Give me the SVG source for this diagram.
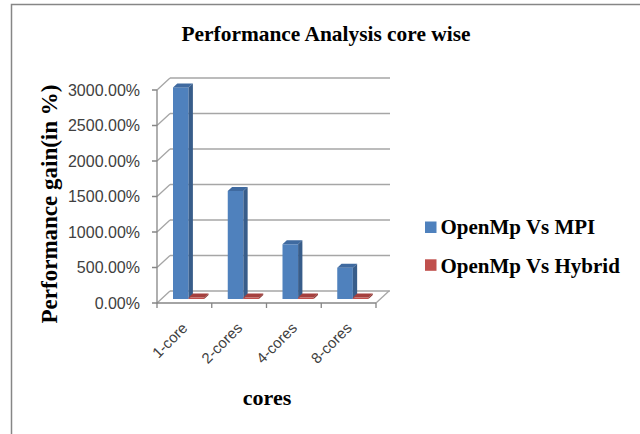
<svg xmlns="http://www.w3.org/2000/svg" width="640" height="434" viewBox="0 0 640 434">
<style>
.grid{stroke:#a6a6a6;stroke-width:1.3;fill:none}
.axis{stroke:#868686;stroke-width:1.3;fill:none}
.ylab{font-family:"Liberation Sans",Arial,sans-serif;font-size:16px;fill:#404040;text-anchor:end}
.xlab{font-family:"Liberation Sans",Arial,sans-serif;font-size:15px;fill:#404040;text-anchor:end}
.serifb{font-family:"Liberation Serif","Times New Roman",serif;font-weight:bold;fill:#000}
.bf{fill:#4f81bd}.bs{fill:#385d8a}.bt{fill:#3f6aa0}
.rf{fill:#c0504d}.rs{fill:#8c3836}.rt{fill:#a5403e}
</style>
<rect width="640" height="434" fill="#fff"/>
<g id="frame">
<path d="M11.5,434 V4.5 H640" stroke="#868686" stroke-width="1.5" fill="none"/>
</g>
<g id="title">
<text class="serifb" x="326" y="41" font-size="21.5" text-anchor="middle" textLength="289" lengthAdjust="spacingAndGlyphs">Performance Analysis core wise</text>
</g>
<g id="walls">
<path class="grid" d="M170,291H390M170,255.5H390M170,220H390M170,184.5H390M170,149H390M170,113.5H390M170,78H390"/>
<path class="grid" d="M157,303L170,291M157,267.5L170,255.5M157,232L170,220M157,196.5L170,184.5M157,161L170,149M157,125.5L170,113.5M157,90L170,78"/>
<path class="grid" d="M376,303L389,291"/>
</g>
<g id="axes">
<path class="axis" d="M157,90V303H376"/>
<path class="axis" d="M152,303H157M152,267.5H157M152,232H157M152,196.5H157M152,161H157M152,125.5H157M152,90H157"/>
<path class="axis" d="M157,303V308M211.75,303V308M266.5,303V308M321.25,303V308M376,303V308"/>
</g>
<g id="ylabels">
<text class="ylab" x="140" y="308.5">0.00%</text>
<text class="ylab" x="140" y="273">500.00%</text>
<text class="ylab" x="140" y="237.5">1000.00%</text>
<text class="ylab" x="140" y="202">1500.00%</text>
<text class="ylab" x="140" y="166.5">2000.00%</text>
<text class="ylab" x="140" y="131">2500.00%</text>
<text class="ylab" x="140" y="95.5">3000.00%</text>
</g>
<g id="bars">
<g id="bar-1core-mpi">
<rect class="bf" x="173" y="87.4" width="15.6" height="211.6"/>
<polygon class="bt" points="173,87.4 188.6,87.4 192.9,83.4 177.3,83.4"/>
<polygon class="bs" points="188.6,87.4 192.9,83.4 192.9,295 188.6,299"/>
</g>
<g id="bar-1core-hyb">
<rect class="rf" x="188.6" y="297.6" width="15.6" height="1.4"/>
<polygon class="rt" points="188.6,297.6 204.2,297.6 208.5,293.6 192.9,293.6"/>
<polygon class="rs" points="204.2,297.6 208.5,293.6 208.5,295 204.2,299"/>
</g>
<g id="bar-2cores-mpi">
<rect class="bf" x="227.75" y="191" width="15.6" height="108"/>
<polygon class="bt" points="227.75,191 243.35,191 247.65,187 232.05,187"/>
<polygon class="bs" points="243.35,191 247.65,187 247.65,295 243.35,299"/>
</g>
<g id="bar-2cores-hyb">
<rect class="rf" x="243.35" y="297.6" width="15.6" height="1.4"/>
<polygon class="rt" points="243.35,297.6 258.95,297.6 263.25,293.6 247.65,293.6"/>
<polygon class="rs" points="258.95,297.6 263.25,293.6 263.25,295 258.95,299"/>
</g>
<g id="bar-4cores-mpi">
<rect class="bf" x="282.5" y="244.3" width="15.6" height="54.7"/>
<polygon class="bt" points="282.5,244.3 298.1,244.3 302.4,240.3 286.8,240.3"/>
<polygon class="bs" points="298.1,244.3 302.4,240.3 302.4,295 298.1,299"/>
</g>
<g id="bar-4cores-hyb">
<rect class="rf" x="298.1" y="297.6" width="15.6" height="1.4"/>
<polygon class="rt" points="298.1,297.6 313.7,297.6 318,293.6 302.4,293.6"/>
<polygon class="rs" points="313.7,297.6 318,293.6 318,295 313.7,299"/>
</g>
<g id="bar-8cores-mpi">
<rect class="bf" x="337.25" y="267.7" width="15.6" height="31.3"/>
<polygon class="bt" points="337.25,267.7 352.85,267.7 357.15,263.7 341.55,263.7"/>
<polygon class="bs" points="352.85,267.7 357.15,263.7 357.15,295 352.85,299"/>
</g>
<g id="bar-8cores-hyb">
<rect class="rf" x="352.85" y="297.6" width="15.6" height="1.4"/>
<polygon class="rt" points="352.85,297.6 368.45,297.6 372.75,293.6 357.15,293.6"/>
<polygon class="rs" points="368.45,297.6 372.75,293.6 372.75,295 368.45,299"/>
</g>
</g>
<g id="xlabels">
<text class="xlab" transform="translate(188.5,329) rotate(-45)">1-core</text>
<text class="xlab" transform="translate(243.2,329) rotate(-45)">2-cores</text>
<text class="xlab" transform="translate(298,329) rotate(-45)">4-cores</text>
<text class="xlab" transform="translate(352.7,329) rotate(-45)">8-cores</text>
</g>
<g id="axis-titles">
<text class="serifb" x="267" y="405" font-size="22" text-anchor="middle">cores</text>
<text class="serifb" font-size="23" text-anchor="middle" transform="translate(57,204) rotate(-90)">Performance gain(in %)</text>
</g>
<g id="legend">
<g id="legend-mpi">
<rect x="425" y="221.5" width="11.5" height="11.5" fill="#4f81bd"/>
<text class="serifb" x="440.5" y="234" font-size="21">OpenMp Vs MPI</text>
</g>
<g id="legend-hybrid">
<rect x="425" y="259.3" width="11.5" height="11.5" fill="#c0504d"/>
<text class="serifb" x="440.5" y="272.5" font-size="21">OpenMp Vs Hybrid</text>
</g>
</g>
</svg>
